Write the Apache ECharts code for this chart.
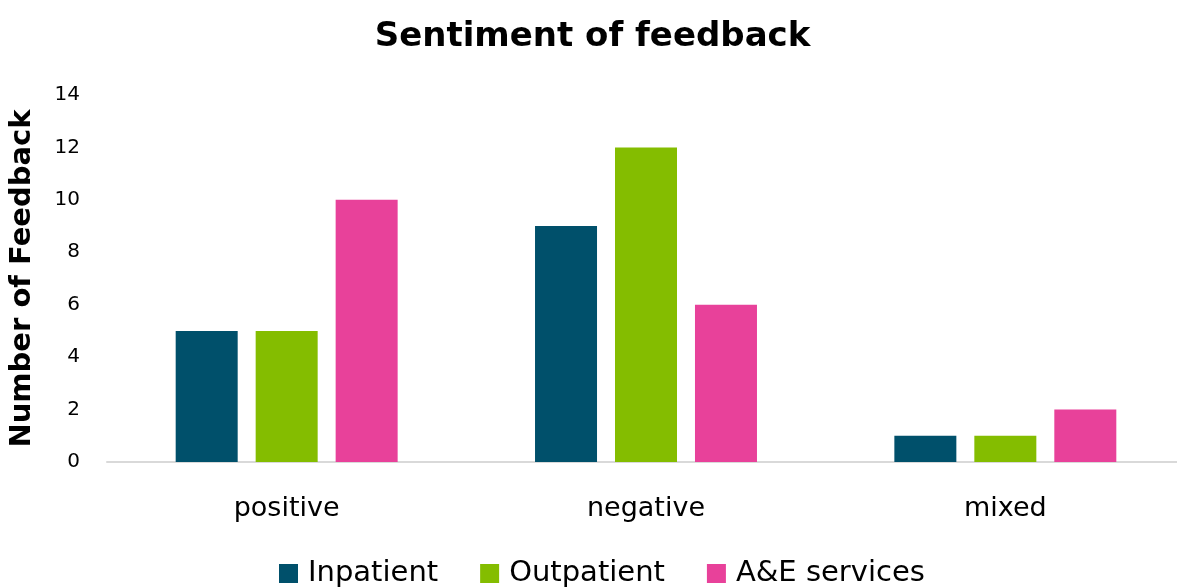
<!DOCTYPE html>
<html>
<head>
<meta charset="utf-8">
<script src="https://cdn.jsdelivr.net/npm/echarts@6/dist/echarts.min.js"></script>
<style>
  html, body { margin: 0; padding: 0; background: #fff; overflow: hidden; }
  /* plot area runs slightly past the right edge of the page */
  #chart { width: 1185px; height: 587px; }
</style>
</head>
<body>
<div id="chart"></div>
<script>
const categories = ['positive', 'negative', 'mixed'];
const inpatient = [5, 9, 1];
const outpatient = [5, 12, 1];
const aeServices = [10, 6, 2];
const seriesNames = ['Inpatient', 'Outpatient', 'A&E services'];
const colors = ['#00506b', '#84bd00', '#e8419a'];

const FONT = '"DejaVu Sans", "Noto Sans", sans-serif';

const chart = echarts.init(document.getElementById('chart'));
chart.setOption({
  animation: false,
  color: colors,
  textStyle: { fontFamily: FONT },
  title: {
    text: 'Sentiment of feedback',
    left: 'center',
    top: 15,
    textStyle: { fontFamily: FONT, fontSize: 34, fontWeight: 'bold', color: '#000' }
  },
  legend: {
    bottom: -6,
    left: 274,
    itemWidth: 19,
    itemHeight: 19,
    itemGap: 42,
    icon: 'rect',
    textStyle: { fontFamily: FONT, fontSize: 29, color: '#000', padding: [0, 0, 0, 5] },
    data: seriesNames
  },
  grid: { left: 105, width: 1080, top: 95, bottom: 125, containLabel: false },
  xAxis: {
    type: 'category',
    data: categories,
    axisLine: { lineStyle: { color: '#d9d9d9', width: 2 } },
    axisTick: { show: false },
    axisLabel: { fontFamily: FONT, fontSize: 27, color: '#000', margin: 33 }
  },
  yAxis: {
    type: 'value',
    min: 0,
    max: 14,
    interval: 2,
    name: 'Number of Feedback',
    nameLocation: 'middle',
    nameGap: 70,
    nameTextStyle: { fontFamily: FONT, fontSize: 29, fontWeight: 'bold', color: '#000' },
    axisLine: { show: false },
    axisTick: { show: false },
    splitLine: { show: false },
    axisLabel: { fontFamily: FONT, fontSize: 20, color: '#000', margin: 27 }
  },
  series: [
    { name: seriesNames[0], type: 'bar', data: inpatient, barWidth: 62, barGap: '29%' },
    { name: seriesNames[1], type: 'bar', data: outpatient, barWidth: 62, barGap: '29%' },
    { name: seriesNames[2], type: 'bar', data: aeServices, barWidth: 62, barGap: '29%' }
  ]
});
</script>
</body>
</html>
